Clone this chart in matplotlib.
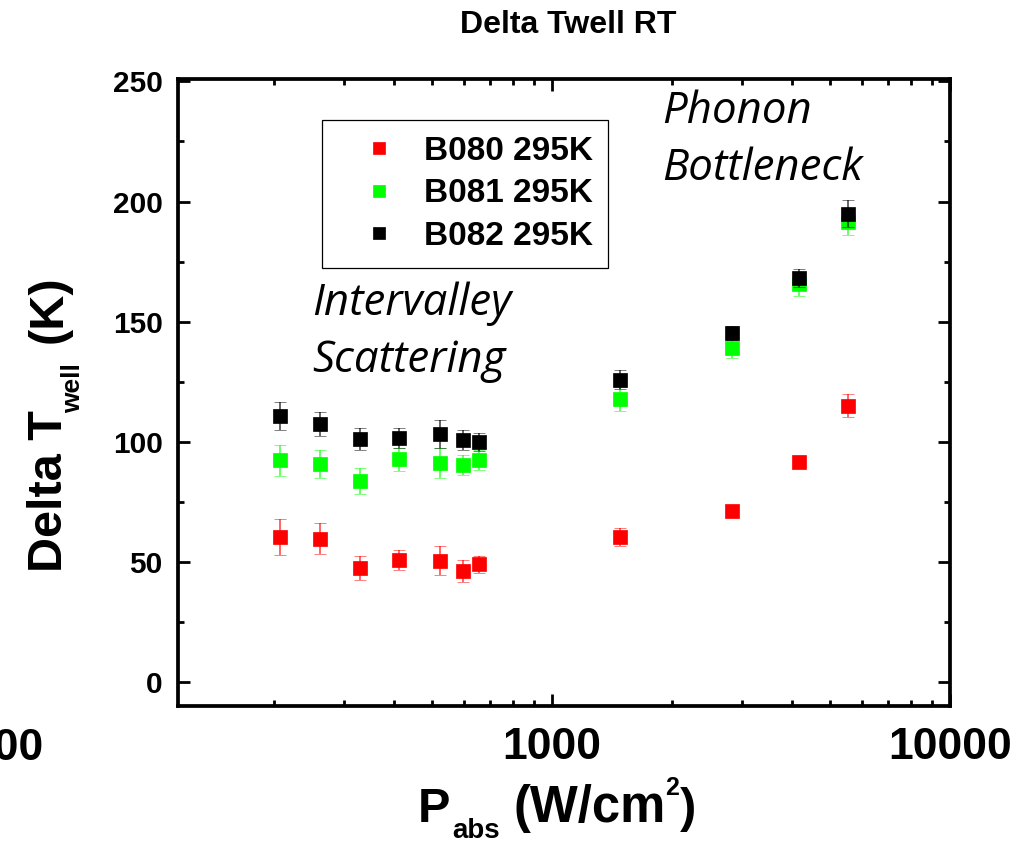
import numpy as np
import matplotlib
matplotlib.use('Agg')
import matplotlib.pyplot as plt
from matplotlib.ticker import MultipleLocator, LogLocator, FuncFormatter, NullFormatter

plt.rcParams['font.family'] = ['Liberation Sans', 'DejaVu Sans']
plt.rcParams['font.weight'] = 'bold'

# ---------------- data ----------------
p_abs = [208, 261, 329, 413, 523, 597, 656, 1482, 2833, 4175, 5544]

b080 = [60.4, 59.7, 47.4, 50.7, 50.5, 46.1, 49.0, 60.5, 71.0, 91.7, 115.0]
b080_err = [7.5, 6.4, 4.9, 4.2, 5.9, 4.5, 3.5, 3.7, 1.5, 1.5, 4.9]

b081 = [92.2, 90.7, 83.6, 92.8, 91.1, 90.3, 92.5, 117.9, 138.9, 165.8, 191.5]
b081_err = [6.3, 5.7, 5.4, 4.8, 6.2, 4.2, 4.2, 4.9, 4.0, 5.0, 5.4]

b082 = [110.8, 107.4, 101.1, 101.5, 103.2, 100.8, 100.0, 125.8, 145.3, 168.2, 195.0]
b082_err = [5.8, 5.1, 4.7, 4.2, 5.9, 4.1, 3.7, 3.9, 2.8, 3.9, 5.8]

series = [
    ('B080 295K', b080, b080_err, '#ff0000'),
    ('B081 295K', b081, b081_err, '#00ff00'),
    ('B082 295K', b082, b082_err, '#000000'),
]

W, H = 1021, 842
fig = plt.figure(figsize=(W / 100, H / 100), dpi=100)
ax = fig.add_axes([178 / W, 1 - 706 / H, (950 - 178) / W, (706 - 79) / H])

handles = []
for i, (name, y, err, col) in enumerate(series):
    c = ax.errorbar(p_abs, y, yerr=err, fmt='s', color=col, ecolor=col,
                    markersize=9.4, markeredgewidth=0.5, markeredgecolor=col,
                    elinewidth=1.2, capsize=4.5, capthick=1.3,
                    label=name, zorder=3 + i)
    for ln in c[2]:
        ln.set_alpha(0.7)
    for cp in c[1]:
        cp.set_alpha(0.7)
    handles.append(c[0])

ax.set_xscale('log')
ax.set_xlim(115, 10000)
ax.set_ylim(-10, 251)

ax.xaxis.set_major_locator(LogLocator(base=10))
ax.xaxis.set_minor_locator(LogLocator(base=10, subs=np.arange(2, 10)))
ax.xaxis.set_major_formatter(FuncFormatter(lambda v, p: f'{v:.0f}'))
ax.xaxis.set_minor_formatter(NullFormatter())
ax.yaxis.set_major_locator(MultipleLocator(50))
ax.yaxis.set_minor_locator(MultipleLocator(25))

for s in ax.spines.values():
    s.set_linewidth(2.7)
ax.tick_params(which='both', direction='in', top=True, right=True, width=2.0)
ax.tick_params(which='major', length=8.5)
ax.tick_params(which='minor', length=4.5)
ax.tick_params(axis='x', which='major', labelsize=32, pad=15)
ax.tick_params(axis='y', which='major', labelsize=21.5, pad=11)

# stray "100" label cut by the figure edge, as in the reference
fig.text(43 / W, 1 - 728 / H, '100', ha='right', va='top', fontsize=32)

# y label pieces (Delta T_well (K))
ykw = dict(rotation=90, rotation_mode='anchor', ha='left', va='baseline')
fig.text(62 / W, 1 - 572 / H, 'Delta T', fontsize=35, **ykw)
fig.text(80 / W, 1 - 413 / H, 'well', fontsize=19, **ykw)
fig.text(62 / W, 1 - 343 / H, '(K)', fontsize=35, **ykw)

# x label pieces (P_abs (W/cm^2))
xkw = dict(ha='left', va='baseline')
fig.text(418 / W, 1 - 822 / H, 'P', fontsize=35, **xkw)
fig.text(452 / W, 1 - 838 / H, 'abs', fontsize=20, **xkw)
fig.text(513 / W, 1 - 822 / H, '(W/cm', fontsize=36.5, **xkw)
fig.text(665 / W, 1 - 795 / H, '2', fontsize=18, **xkw)
fig.text(680 / W, 1 - 822 / H, ')', fontsize=35, **xkw)

fig.text(568 / W, 1 - 33 / H, 'Delta Twell RT', ha='center', va='baseline', fontsize=23)

# region annotations
akw = dict(transform=ax.transAxes, family=['Open Sans', 'DejaVu Sans'], style='italic',
           weight='normal', fontsize=31.5, ha='left', va='baseline')
ax.text(0.1736, 0.6236, 'Intervalley', **akw)
ax.text(0.1736, 0.5327, 'Scattering', **akw)
ax.text(0.627, 0.930, 'Phonon', **akw)
ax.text(0.627, 0.839, 'Bottleneck', **akw)

leg = ax.legend(handles=handles, labels=[s[0] for s in series], loc='upper left',
                bbox_to_anchor=(322 / W, 1 - 120 / H), bbox_transform=fig.transFigure,
                borderaxespad=0, fancybox=False, framealpha=1, edgecolor='black',
                prop={'size': 24, 'weight': 'bold'}, handlelength=2.46,
                handletextpad=0.12, borderpad=0.47, labelspacing=0.35,
                markerscale=0.95)
leg.get_frame().set_linewidth(0.9)

fig.savefig('out.png', dpi=100)
